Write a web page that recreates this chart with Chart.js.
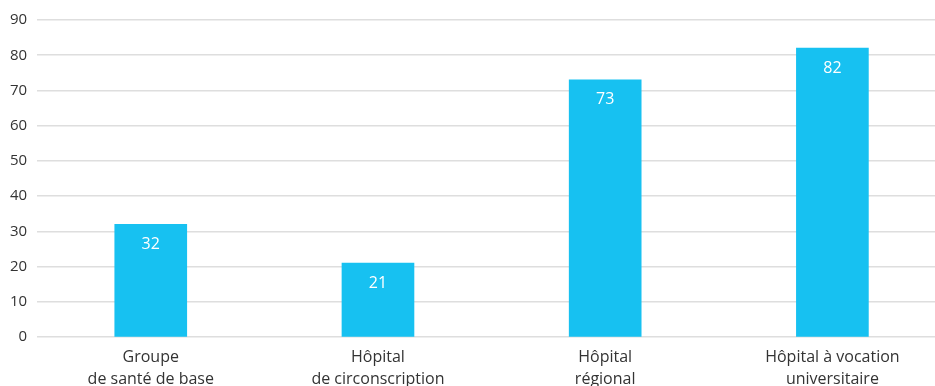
<!DOCTYPE html>
<html>
<head>
<meta charset="utf-8">
<script src="https://cdn.jsdelivr.net/npm/chart.js@4/dist/chart.umd.min.js"></script>
<style>
  html, body { margin: 0; padding: 0; background: #fff; overflow: hidden; }
  #wrap { position: relative; width: 946px; height: 392px; }
</style>
</head>
<body>
<div id="wrap"><canvas id="c"></canvas></div>
<script>
const categories = [
  ["Groupe", "de santé de base"],
  ["Hôpital", "de circonscription"],
  ["Hôpital", "régional"],
  ["Hôpital à vocation", "universitaire"]
];
const values = [32, 21, 73, 82];
const yTicks = [0, 10, 20, 30, 40, 50, 60, 70, 80, 90];

const FONT = "'Open Sans', 'Noto Sans', sans-serif";

// white value labels drawn just inside the top of each bar
const barValueLabels = {
  id: 'barValueLabels',
  afterDatasetsDraw(chart) {
    const ctx = chart.ctx;
    const meta = chart.getDatasetMeta(0);
    ctx.save();
    ctx.fillStyle = '#ffffff';
    ctx.font = '16px ' + FONT;
    ctx.textAlign = 'center';
    ctx.textBaseline = 'middle';
    meta.data.forEach((bar, i) => {
      ctx.fillText(String(values[i]), bar.x, bar.y + 20);
    });
    ctx.restore();
  }
};

new Chart(document.getElementById('c'), {
  type: 'bar',
  data: {
    labels: categories,
    datasets: [{
      data: values,
      backgroundColor: '#17C1F1',
      borderWidth: 0,
      barThickness: 72
    }]
  },
  options: {
    responsive: true,
    maintainAspectRatio: false,
    animation: false,
    layout: { padding: { top: 20, left: 0, right: 0, bottom: 0 } },
    plugins: { legend: { display: false }, tooltip: { enabled: false } },
    scales: {
      x: {
        grid: { display: false },
        border: { display: false },
        ticks: {
          color: '#333333',
          font: { family: FONT, size: 16, lineHeight: 1.4 },
          padding: 1,
          maxRotation: 0,
          autoSkip: false
        }
      },
      y: {
        min: 0,
        max: 90,
        afterBuildTicks(scale) { scale.ticks = yTicks.map(v => ({ value: v })); },
        grid: { color: '#dedede', lineWidth: 1.5, drawTicks: false },
        border: { display: false },
        ticks: {
          color: '#333333',
          font: { family: FONT, size: 15 },
          padding: 10
        }
      }
    }
  },
  plugins: [barValueLabels]
});
</script>
</body>
</html>
